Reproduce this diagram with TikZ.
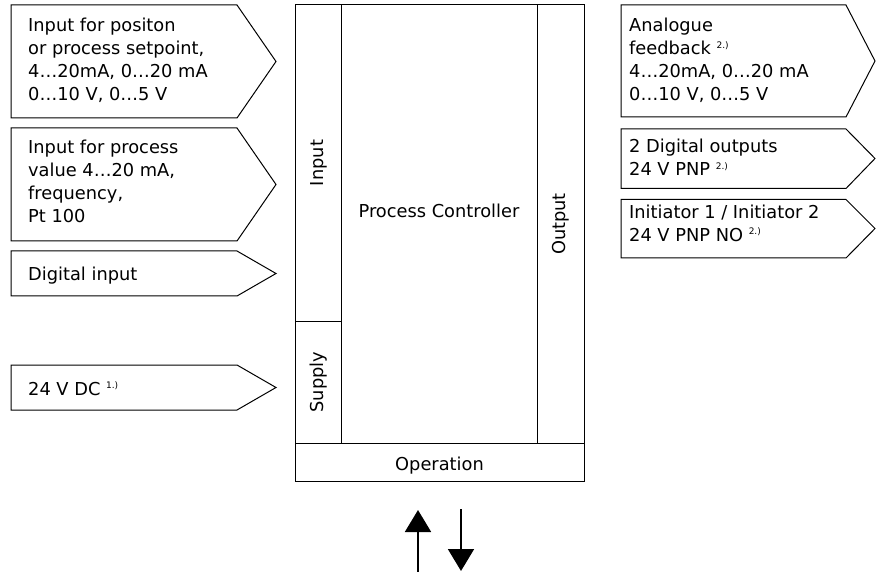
\documentclass[tikz,border=0pt]{standalone}
\usepackage{fontspec}
\setmainfont{DejaVu Sans}
\usetikzlibrary{arrows.meta}
\usetikzlibrary{calc}
\tikzset{>=latex}
\newcommand{\fnote}[1]{\raisebox{6.5pt}{\fontsize{9}{9}\selectfont #1}}
\tikzset{
  tag/.style={draw=black, line width=1pt},
  frame/.style={draw=black, line width=1pt},
  lbl/.style={anchor=north west, inner sep=0pt, align=left},
  flow/.style={line width=1.8pt, -{Triangle[width=26pt,length=22pt]}},
}

\begin{document}
\begin{tikzpicture}[x=1pt, y=-1pt, every node/.style={font=\fontsize{17.8}{23}\selectfont}]
  \useasboundingbox (0,0) rectangle (876,572);
  \pgfmathsetmacro{\inl}{11}
  \pgfmathsetmacro{\inb}{237}
  \pgfmathsetmacro{\intip}{276}
  \pgfmathsetmacro{\outl}{621}
  \pgfmathsetmacro{\outb}{846}
  \pgfmathsetmacro{\outtip}{875}
  % input tags
  \draw [tag] (\inl,5) -- (\inb,5) -- (\intip,61.5) -- (\inb,118) -- (\inl,118) -- cycle;
  \draw [tag] (\inl,128) -- (\inb,128) -- (\intip,184.5) -- (\inb,241) -- (\inl,241) -- cycle;
  \draw [tag] (\inl,251) -- (\inb,251) -- (\intip,273.5) -- (\inb,296) -- (\inl,296) -- cycle;
  \draw [tag] (\inl,365) -- (\inb,365) -- (\intip,387.5) -- (\inb,410) -- (\inl,410) -- cycle;
  \node [lbl] (setpoint) at (28,14.9) {\strut Input for positon\\or process setpoint,\\4…20mA, 0…20 mA\\0…10 V, 0…5 V};
  \node [lbl] (procval) at (28,136.9) {\strut Input for process\\value 4…20 mA,\\frequency,\\Pt 100};
  \node [lbl] (diginput) at (28,263.9) {\strut Digital input};
  \node [lbl] (supply24) at (28,378.9) {\strut 24 V DC \fnote{1.)}};
  % output tags
  \draw [tag] (\outl,5) -- (\outb,5) -- (\outtip,61) -- (\outb,117) -- (\outl,117) -- cycle;
  \draw [tag] (\outl,129) -- (\outb,129) -- (\outtip,158.5) -- (\outb,188.5) -- (\outl,188.5) -- cycle;
  \draw [tag] (\outl,199.5) -- (\outb,199.5) -- (\outtip,228.5) -- (\outb,258) -- (\outl,258) -- cycle;
  \node [lbl] (feedback) at (629,15.6) {\strut Analogue\\feedback \fnote{2.)}\\4…20mA, 0…20 mA\\0…10 V, 0…5 V};
  \node [lbl] (digout) at (629,136.6) {\strut 2 Digital outputs\\24 V PNP \fnote{2.)}};
  \node [lbl] (initiator) at (629,202.2) {\strut Initiator 1 / Initiator 2\\24 V PNP NO \fnote{2.)}};
  % controller block
  \draw [frame] (295,5) coordinate (ctl-nw) rectangle (584,481) coordinate (ctl-se);
  \draw [frame] (295,443) -- (584,443)
    (341,5) -- (341,443)
    (295,321) -- (341,321)
    (537,5) -- (537,443);
  \node [rotate=90] (inlabel) at (319,163) {Input};
  \node [rotate=90] (supplylabel) at (319,382) {Supply};
  \node [rotate=90] (outlabel) at (561,224) {Output};
  \node [anchor=base] (controller) at (439,218) {Process Controller};
  \node [anchor=base] (operation) at (439.5,470) {Operation};
  % operation in / out
  \coordinate (upfoot) at (418,572);
  \coordinate (uphead) at (418,510);
  \coordinate (downfoot) at (461,509);
  \coordinate (downhead) at (461,571);
  \draw [flow] (upfoot) -- (uphead);
  \draw [flow] (downfoot) -- (downhead);
\end{tikzpicture}
\end{document}
